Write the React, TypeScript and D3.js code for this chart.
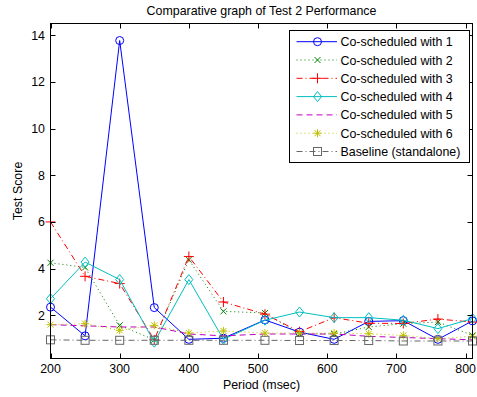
import React from "react";
import * as d3 from "d3";

const periods = [200, 250, 300, 350, 400, 450, 510, 560, 610, 660, 710, 760, 810];
const seriesNames = [
  "Co-scheduled with 1",
  "Co-scheduled with 2",
  "Co-scheduled with 3",
  "Co-scheduled with 4",
  "Co-scheduled with 5",
  "Co-scheduled with 6",
  "Baseline (standalone)",
];
const coWith1 = [2.35, 1.12, 13.77, 2.33, 0.97, 1.02, 1.8, 1.28, 0.97, 1.74, 1.77, 0.97, 1.76];
const coWith2 = [4.25, 4.05, 1.57, 0.95, 4.38, 2.17, 2.1, 1.2, 1.2, 1.5, 1.64, 1.71, 1.14];
const coWith3 = [6.0, 3.67, 3.36, 0.95, 4.52, 2.57, 2.05, 1.3, 1.9, 1.66, 1.65, 1.84, 1.71];
const coWith4 = [2.71, 4.28, 3.53, 0.85, 3.53, 0.97, 1.79, 2.14, 1.9, 1.9, 1.79, 1.43, 1.86];
const coWith5 = [1.6, 1.55, 1.5, 1.5, 1.2, 1.12, 1.2, 1.2, 1.2, 1.1, 1.05, 1.0, 0.95];
const coWith6 = [1.6, 1.64, 1.36, 1.57, 1.24, 1.33, 1.24, 1.24, 1.24, 1.21, 1.14, 1.0, 1.1];
const baseline = [0.95, 0.93, 0.93, 0.93, 0.93, 0.93, 0.93, 0.92, 0.92, 0.92, 0.9, 0.9, 0.9];
const xTicks = [200, 300, 400, 500, 600, 700, 800];
const yTicks = [2, 4, 6, 8, 10, 12, 14];

type Marker = "circle" | "x" | "plus" | "diamond" | "none" | "star" | "square";
const styles: { color: string; dash: string; marker: Marker }[] = [
  { color: "#0000ff", dash: "", marker: "circle" },
  { color: "#008000", dash: "1,3", marker: "x" },
  { color: "#ff0000", dash: "6,3,1,3", marker: "plus" },
  { color: "#00bfbf", dash: "", marker: "diamond" },
  { color: "#bf00bf", dash: "6,4", marker: "none" },
  { color: "#bfbf00", dash: "1,3", marker: "star" },
  { color: "#666666", dash: "6,3,1,3", marker: "square" },
];
const allSeries = [coWith1, coWith2, coWith3, coWith4, coWith5, coWith6, baseline];

const W = 477, H = 397;
const L = 50.5, R = 472.5, T = 23.5, B = 358.5;
const FONT = "'Liberation Sans', Arial, sans-serif";
const FS = 12.4;

function MarkerShape({ type, x, y, color }: { type: Marker; x: number; y: number; color: string }) {
  const p = { fill: "none", stroke: color, strokeWidth: 1 };
  switch (type) {
    case "circle":
      return <circle cx={x} cy={y} r={4} {...p} />;
    case "x":
      return <path d={`M${x - 3},${y - 3}L${x + 3},${y + 3}M${x - 3},${y + 3}L${x + 3},${y - 3}`} {...p} />;
    case "plus":
      return <path d={`M${x - 5},${y}L${x + 5},${y}M${x},${y - 5}L${x},${y + 5}`} {...p} />;
    case "diamond":
      return <path d={`M${x},${y - 5}L${x + 4},${y}L${x},${y + 5}L${x - 4},${y}Z`} {...p} />;
    case "star":
      return (
        <path
          d={`M${x - 4},${y}L${x + 4},${y}M${x},${y - 4}L${x},${y + 4}M${x - 3},${y - 3}L${x + 3},${y + 3}M${x - 3},${y + 3}L${x + 3},${y - 3}`}
          {...p}
        />
      );
    case "square":
      return <rect x={x - 4} y={y - 4} width={8} height={8} {...p} />;
    default:
      return null;
  }
}

export default function App() {
  const x = d3.scaleLinear().domain([200, 810]).range([L, R]);
  const y = d3.scaleLinear().domain([0.15, 14.5]).range([B, T]);
  const line = d3
    .line<number>()
    .x((_, i) => x(periods[i]))
    .y((d) => y(d));

  const legX = 289.5, legY = 30.5, legW = 180, legH = 132;
  const rowY = (i: number) => 41.7 + i * 18.3;

  return (
    <div style={{ position: "absolute", left: 0, top: 0 }}>
      <svg width={W} height={H} style={{ display: "block", background: "#ffffff" }} fontFamily={FONT}>
        <rect x={0} y={0} width={W} height={H} fill="#ffffff" />
        <defs>
          <clipPath id="plotclip">
            <rect x={L - 6} y={T - 6} width={R - L + 12} height={B - T + 12} />
          </clipPath>
        </defs>
        <text x={(L + R) / 2} y={15} textAnchor="middle" fontSize={FS} fill="#000">
          Comparative graph of Test 2 Performance
        </text>
        <g clipPath="url(#plotclip)">
          {allSeries.map((s, k) => (
            <g key={k}>
              <path d={line(s) || ""} fill="none" stroke={styles[k].color} strokeWidth={1} strokeDasharray={styles[k].dash} />
              {s.map((v, i) => (
                <MarkerShape key={i} type={styles[k].marker} x={x(periods[i])} y={y(v)} color={styles[k].color} />
              ))}
            </g>
          ))}
        </g>
        <rect x={L} y={T} width={R - L} height={B - T} fill="none" stroke="#000" strokeWidth={1} />
        {xTicks.map((t) => (
          <g key={t}>
            <line x1={Math.round(x(t)) + 0.5} x2={Math.round(x(t)) + 0.5} y1={B} y2={B - 5} stroke="#000" />
            <line x1={Math.round(x(t)) + 0.5} x2={Math.round(x(t)) + 0.5} y1={T} y2={T + 5} stroke="#000" />
            <text x={x(t)} y={373} textAnchor="middle" fontSize={FS} fill="#000">
              {t}
            </text>
          </g>
        ))}
        {yTicks.map((t) => (
          <g key={t}>
            <line x1={L} x2={L + 5} y1={Math.round(y(t)) + 0.5} y2={Math.round(y(t)) + 0.5} stroke="#000" />
            <line x1={R} x2={R - 5} y1={Math.round(y(t)) + 0.5} y2={Math.round(y(t)) + 0.5} stroke="#000" />
            <text x={45} y={y(t) + 4.5} textAnchor="end" fontSize={FS} fill="#000">
              {t}
            </text>
          </g>
        ))}
        <text x={(L + R) / 2} y={389} textAnchor="middle" fontSize={FS} fill="#000">
          Period (msec)
        </text>
        <text
          transform={`translate(22,${(T + B) / 2}) rotate(-90)`}
          textAnchor="middle"
          fontSize={FS}
          fill="#000"
        >
          Test Score
        </text>
        <rect x={legX} y={legY} width={legW} height={legH} fill="#ffffff" stroke="#000" strokeWidth={1} />
        {seriesNames.map((name, i) => (
          <g key={name}>
            <line
              x1={296.5}
              x2={337}
              y1={rowY(i)}
              y2={rowY(i)}
              stroke={styles[i].color}
              strokeWidth={1}
              strokeDasharray={styles[i].dash}
            />
            <MarkerShape type={styles[i].marker} x={317.5} y={rowY(i)} color={styles[i].color} />
            <text x={340.5} y={rowY(i) + 4.5} fontSize={FS} fill="#000">
              {name}
            </text>
          </g>
        ))}
      </svg>
    </div>
  );
}
